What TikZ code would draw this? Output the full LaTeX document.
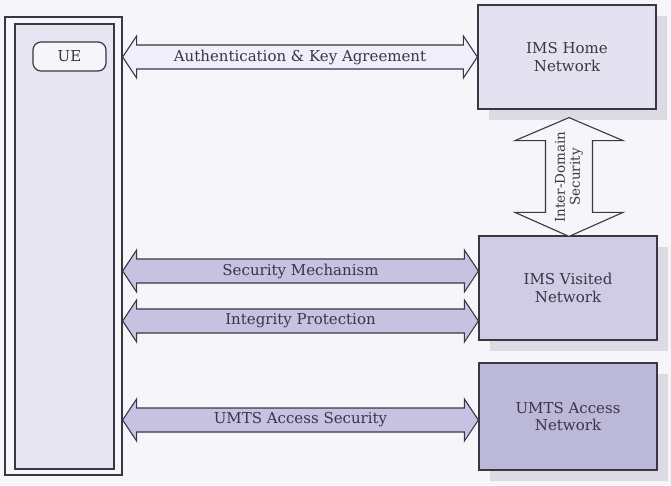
\documentclass[tikz,border=0pt]{standalone}
\usepackage{fontspec}
\setmainfont{DejaVu Serif}
\usetikzlibrary{calc,shadows}
\definecolor{bgcol}{RGB}{246,245,250}
\definecolor{linecol}{RGB}{58,54,68}
\definecolor{uefill}{RGB}{231,229,242}
\definecolor{homefill}{RGB}{228,226,240}
\definecolor{visitfill}{RGB}{208,204,230}
\definecolor{umtsfill}{RGB}{188,184,216}
\definecolor{lightarrow}{RGB}{240,238,248}
\definecolor{darkarrow}{RGB}{198,194,226}
\definecolor{shadowcol}{RGB}{214,212,222}
\tikzset{
  lbl/.style={font=\fontsize{15}{17.5}\selectfont, text=linecol},
  netbox/.style={draw=linecol, line width=1.2pt, minimum width=178pt,
    minimum height=104pt, align=center, lbl, inner sep=0pt,
    drop shadow={shadow xshift=11pt, shadow yshift=-11pt, fill=shadowcol, opacity=0.8}},
  blockarrow/.style={draw=linecol, line width=1.1pt, line join=miter},
}
% horizontal double block arrow between two tip coordinates (same height)
\newcommand\hblock[4]{% #1 left tip, #2 right tip, #3 fill, #4 label
  \draw[blockarrow, fill=#3]
    (#1) -- ($(#1)+(14,-21)$) -- ($(#1)+(14,-12)$) -- ($(#2)+(-14,-12)$)
    -- ($(#2)+(-14,-21)$) -- (#2) -- ($(#2)+(-14,21)$) -- ($(#2)+(-14,12)$)
    -- ($(#1)+(14,12)$) -- ($(#1)+(14,21)$) -- cycle;
  \node[lbl] at ($(#1)!0.5!(#2)$) {#4};
}
\begin{document}
\begin{tikzpicture}[x=1pt, y=-1pt]
  \useasboundingbox[fill=bgcol] (0,0) rectangle (671,485);

  % user equipment column
  \node[draw=linecol, line width=1.2pt, fill=bgcol, minimum width=117pt,
        minimum height=458pt, inner sep=0pt] (ueouter) at (63.5,246) {};
  \node[draw=linecol, line width=1.2pt, fill=uefill, minimum width=99pt,
        minimum height=445pt, inner sep=0pt] (ueinner) at (64.5,246.5) {};
  \node[draw=linecol, line width=1.2pt, fill=bgcol, rounded corners=8pt,
        minimum width=73pt, minimum height=29pt, lbl] (ue) at (69.5,56.5) {UE};

  % networks
  \node[netbox, fill=homefill] (home) at (567,57) {IMS Home\\Network};
  \node[netbox, fill=visitfill] (visited) at (568,288) {IMS Visited\\Network};
  \node[netbox, fill=umtsfill, minimum height=107pt] (umts) at (568,416.5)
       {UMTS Access\\Network};

  % arrow end points
  \coordinate (a1) at (ueouter.east |- 0,57);
  \coordinate (a2) at (home.west |- 0,57);
  \coordinate (s1) at (ueouter.east |- 0,271);
  \coordinate (s2) at (visited.west |- 0,271);
  \coordinate (i1) at (ueouter.east |- 0,321);
  \coordinate (i2) at (visited.west |- 0,321);
  \coordinate (u1) at (ueouter.east |- 0,420);
  \coordinate (u2) at (umts.west |- 0,420);

  \hblock{a1}{a2}{lightarrow}{Authentication \& Key Agreement}
  \hblock{s1}{s2}{darkarrow}{Security Mechanism}
  \hblock{i1}{i2}{darkarrow}{Integrity Protection}
  \hblock{u1}{u2}{darkarrow}{UMTS Access Security}

  % inter-domain arrow
  \coordinate (d1) at ($(home.south)+(2,8)$);
  \coordinate (d2) at ($(visited.north)+(1,1)$);
  \draw[blockarrow, fill=bgcol]
    (d1) -- ($(d1)+(54,23)$) -- ($(d1)+(23.5,23)$) -- ($(d2)+(23.5,-24)$)
    -- ($(d2)+(54,-24)$) -- (d2) -- ($(d2)+(-54,-24)$) -- ($(d2)+(-23.5,-24)$)
    -- ($(d1)+(-23.5,23)$) -- ($(d1)+(-54,23)$) -- cycle;
  \node[lbl, rotate=90, align=center, font=\fontsize{13.5}{15}\selectfont]
    at ($(d1)!0.5!(d2)$) {Inter-Domain\\Security};
\end{tikzpicture}
\end{document}
